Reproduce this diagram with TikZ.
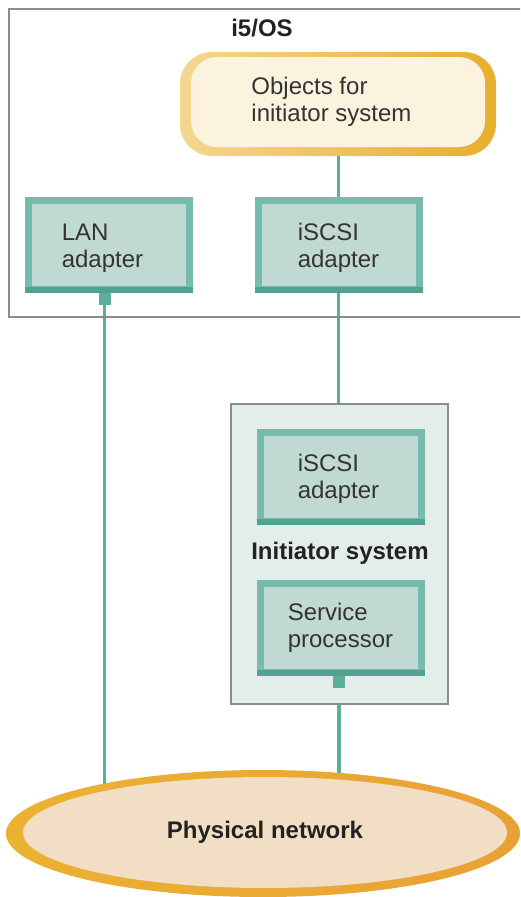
\documentclass[tikz,border=0pt]{standalone}
\usepackage{fontspec}
\setmainfont{Liberation Sans}
\usetikzlibrary{shapes.geometric,backgrounds}
\definecolor{adfill}{HTML}{C1D9D3}
\definecolor{adborder}{HTML}{76BBAC}
\definecolor{adbottom}{HTML}{52A291}
\definecolor{linkc}{HTML}{5BAE9A}
\definecolor{initfill}{HTML}{E3EDEA}
\definecolor{frame}{HTML}{8C8C8C}
\definecolor{objfill}{HTML}{FBF3DD}
\definecolor{objlight}{HTML}{F3D78F}
\definecolor{objdark}{HTML}{E8AE2E}
\definecolor{netfill}{HTML}{F2DEC5}
\definecolor{netlight}{HTML}{EBB232}
\definecolor{netdark}{HTML}{E9A136}
\definecolor{txt}{HTML}{333333}
\definecolor{boldtxt}{HTML}{222222}
\begin{document}
\begin{tikzpicture}[x=1pt,y=-1pt,
  lbl/.style={font=\fontsize{24}{27}\selectfont, text=txt, align=left},
  title/.style={font=\fontsize{24}{27}\selectfont\bfseries, text=boldtxt},
  adapter/.style={lbl, rectangle, fill=adfill, draw=adborder, line width=7pt,
    minimum width=161pt, minimum height=89pt, inner sep=0pt},
  port/.style={rectangle, fill=linkc, minimum width=12pt, minimum height=12pt, inner sep=0pt},
  link/.style={draw=linkc, line width=3.5pt},
  bottomedge/.style={draw=adbottom, line width=6pt}]
\useasboundingbox (0,0) rectangle (520,897);
\clip (0,0) rectangle (520,897);

% i5/OS frame
\node[draw=frame, line width=1.5pt, rectangle, minimum width=530pt, minimum height=308pt,
  inner sep=0pt, anchor=north west] (os) at (8,8) {};
\node[title] (ostitle) at (262,28) {i5/OS};

% objects
\node[rectangle, rounded corners=32pt, left color=objlight, right color=objdark,
  minimum width=316pt, minimum height=104pt, inner sep=0pt] (objouter) at (338,104) {};
\node[lbl, rectangle, rounded corners=26pt, fill=objfill,
  minimum width=294pt, minimum height=90pt, inner sep=0pt] (obj) at (338,102)
  {Objects for\\initiator system\hspace*{13pt}};

% adapters in i5/OS
\node[adapter] (lan) at (109,245) {\rule{0pt}{22pt}LAN\\adapter\hspace*{13pt}};
\node[adapter] (iscsi) at (338.5,245) {\rule{0pt}{22pt}iSCSI\\adapter};

% initiator system
\node[draw=frame, fill=initfill, line width=1.5pt, rectangle, minimum width=217pt,
  minimum height=300pt, inner sep=0pt] (init) at (339.5,554) {};
\node[adapter] (iscsi2) at (340.5,477) {\rule{0pt}{20pt}iSCSI\\adapter\hspace*{4pt}};
\node[title] (inittitle) at (340,553) {Initiator system};
\node[adapter] (sp) at (340.5,628) {Service\\processor};

% bottom bevels (anchors sit on the outer edge of the border)
\foreach \n in {lan,iscsi,iscsi2,sp}{
  \draw[bottomedge] ([yshift=3pt]\n.south west) -- ([yshift=3pt]\n.south east);
}

% ports
\node[port, anchor=north] (lanport) at ([xshift=-4.5pt]lan.south) {};
\node[port, anchor=north] (spport) at ([xshift=-1.5pt]sp.south) {};

% physical network
\node[ellipse, left color=netlight, right color=netdark, minimum width=514pt,
  minimum height=127pt, inner sep=0pt] (netouter) at (263,833.5) {};
\node[ellipse, fill=netfill, minimum width=484pt, minimum height=111pt, inner sep=0pt,
  font=\fontsize{24}{27}\selectfont\bfseries, text=boldtxt] (net) at (265,832.5) {Physical network};

% connectors
\begin{scope}[on background layer]
\draw[link] (obj.south -| iscsi.north) -- (iscsi.north);
\draw[link] (iscsi.south) -- (iscsi.south |- init.north);
\draw[link] (lanport.south) -- (lanport.south |- netouter.center);
\draw[link] (spport.south) -- (spport.south |- netouter.center);
\end{scope}
\end{tikzpicture}
\end{document}
